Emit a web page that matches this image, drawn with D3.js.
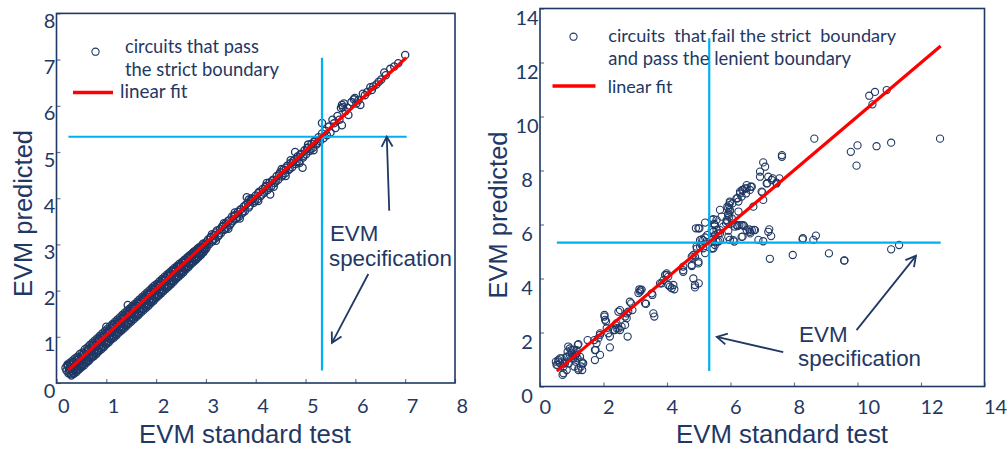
<!DOCTYPE html>
<html><head><meta charset="utf-8">
<script src="https://cdn.jsdelivr.net/npm/d3@7"></script>
<style>body{margin:0;background:#fff}svg{display:block}</style></head>
<body><svg id="c" width="1008" height="451"></svg>
<script>
// ---------- data ----------
const leftTicks = [0,1,2,3,4,5,6,7,8];
const rightTicks = [0,2,4,6,8,10,12,14];
const leftLegend = ["circuits that pass", "the strict boundary"];
const rightLegend = ["circuits  that fail the strict  boundary", "and pass the lenient boundary"];
const fitLabel = "linear fit";
const xTitle = "EVM standard test";
const yTitle = "EVM predicted";
const specLabel = ["EVM", "specification"];
const specValue = 5.33;

const leftPass = [
[0.18,0.33],[0.20,0.27],[0.22,0.38],[0.25,0.30],[0.27,0.40],[0.26,0.23],
[0.30,0.41],[0.32,0.31],[0.31,0.25],[0.35,0.46],[0.37,0.35],[0.36,0.28],
[0.40,0.49],[0.42,0.39],[0.41,0.30],[0.45,0.55],[0.47,0.43],[0.46,0.35],
[0.50,0.57],[0.52,0.48],[0.51,0.39],[0.55,0.64],[0.57,0.51],[0.56,0.45],
[0.60,0.68],[0.62,0.58],[0.61,0.49],[0.65,0.74],[0.67,0.61],[0.66,0.55],
[0.70,0.77],[0.72,0.69],[0.71,0.59],[0.75,0.86],[0.77,0.72],[0.76,0.65],
[0.80,0.88],[0.82,0.79],[0.81,0.69],[0.85,0.95],[0.87,0.82],[0.86,0.76],
[0.90,0.97],[0.92,0.89],[0.91,0.79],[0.95,1.05],[0.97,0.92],[0.96,0.87],
[1.00,1.22],[1.00,1.09],[1.02,0.99],[1.01,0.89],[1.05,1.14],[1.07,1.02],[1.06,0.96],
[1.10,1.18],[1.12,1.09],[1.11,0.99],[1.15,1.26],[1.17,1.12],[1.16,1.06],
[1.20,1.27],[1.22,1.19],[1.21,1.09],[1.25,1.36],[1.27,1.22],[1.26,1.16],
[1.30,1.38],[1.32,1.29],[1.31,1.19],[1.35,1.45],[1.37,1.32],[1.36,1.27],
[1.40,1.48],[1.42,1.39],[1.41,1.29],[1.43,1.69],[1.45,1.56],[1.47,1.42],[1.46,1.36],
[1.50,1.57],[1.52,1.49],[1.51,1.40],[1.55,1.65],[1.57,1.52],[1.56,1.46],
[1.60,1.67],[1.62,1.59],[1.61,1.49],[1.65,1.75],[1.67,1.62],[1.66,1.56],
[1.70,1.77],[1.72,1.69],[1.71,1.60],[1.75,1.85],[1.77,1.72],[1.76,1.67],
[1.80,1.87],[1.82,1.79],[1.81,1.70],[1.85,1.94],[1.87,1.82],[1.86,1.77],
[1.90,1.97],[1.92,1.89],[1.91,1.80],[1.95,2.05],[1.97,1.92],[1.96,1.87],
[2.00,2.07],[2.02,1.99],[2.01,1.90],[2.05,2.14],[2.07,2.02],[2.06,1.97],
[2.10,2.17],[2.12,2.09],[2.11,2.00],[2.15,2.24],[2.17,2.12],[2.16,2.07],
[2.20,2.27],[2.22,2.19],[2.21,2.10],[2.25,2.34],[2.27,2.22],[2.26,2.17],
[2.30,2.37],[2.32,2.29],[2.31,2.20],[2.35,2.45],[2.37,2.32],[2.36,2.27],
[2.40,2.47],[2.42,2.39],[2.41,2.30],[2.45,2.54],[2.47,2.42],[2.46,2.38],
[2.50,2.56],[2.52,2.49],[2.51,2.41],[2.55,2.63],[2.57,2.52],[2.56,2.48],
[2.60,2.66],[2.62,2.59],[2.61,2.51],[2.65,2.73],[2.67,2.62],[2.66,2.58],
[2.70,2.76],[2.72,2.69],[2.71,2.61],[2.75,2.83],[2.77,2.72],[2.76,2.68],
[2.80,2.85],[2.82,2.79],[2.81,2.71],[2.85,2.92],[2.87,2.82],[2.86,2.78],
[2.90,2.95],[2.92,2.89],[2.91,2.82],[2.95,3.02],[2.97,2.92],[2.96,2.89],
[3.00,3.04],[3.02,2.99],[3.01,2.92],
[0.23,0.36],[0.24,0.21],[0.28,0.35],[0.29,0.19],[0.33,0.44],[0.34,0.22],[0.38,0.40],[0.39,0.27],
[0.43,0.52],[0.44,0.31],[0.48,0.50],[0.49,0.34],[0.53,0.61],[0.54,0.41],[0.58,0.59],[0.59,0.44],
[0.63,0.72],[0.64,0.50],[0.68,0.69],[0.69,0.55],[0.73,0.82],[0.74,0.60],[0.78,0.80],[0.79,0.64],
[0.83,0.92],[0.84,0.71],[0.88,0.91],[0.89,0.75],[0.93,1.02],[0.94,0.80],[0.98,1.01],[0.99,0.85],
[1.03,1.12],[1.04,0.91],[1.08,1.11],[1.09,0.95],[1.13,1.22],[1.14,1.01],[1.18,1.21],[1.19,1.05],
[1.23,1.32],[1.24,1.11],[1.28,1.31],[1.29,1.16],[1.33,1.42],[1.34,1.21],[1.38,1.41],[1.39,1.25],
[1.43,1.50],[1.44,1.31],[1.48,1.51],[1.49,1.36],[1.53,1.62],[1.54,1.41],[1.58,1.61],[1.59,1.45],
[1.63,1.72],[1.64,1.51],[1.68,1.71],[1.69,1.56],[1.73,1.82],[1.74,1.61],[1.78,1.81],[1.79,1.66],
[1.83,1.92],[1.84,1.71],[1.88,1.91],[1.89,1.76],[1.93,2.02],[1.94,1.81],[1.98,2.01],[1.99,1.86],
[2.03,2.12],[2.04,1.91],[2.08,2.11],[2.09,1.96],[2.13,2.22],[2.14,2.01],[2.18,2.21],[2.19,2.06],
[2.23,2.32],[2.24,2.11],[2.28,2.31],[2.29,2.16],[2.33,2.42],[2.34,2.22],[2.38,2.41],[2.39,2.27],
[2.43,2.52],[2.44,2.32],[2.48,2.51],[2.49,2.37],[2.53,2.61],[2.54,2.43],[2.58,2.61],[2.59,2.48],
[2.63,2.71],[2.64,2.53],[2.68,2.71],[2.69,2.58],[2.73,2.81],[2.74,2.63],[2.78,2.80],[2.79,2.68],
[2.83,2.90],[2.84,2.73],[2.88,2.90],[2.89,2.78],[2.93,3.00],[2.94,2.84],[2.98,2.99],[2.99,2.89],
[0.22,0.40],[0.30,0.16],[0.27,0.44],[0.35,0.20],[0.32,0.48],[0.40,0.24],[0.37,0.53],[0.45,0.29],
[0.42,0.57],[0.50,0.34],[0.47,0.63],[0.55,0.38],[0.52,0.66],[0.60,0.44],[0.57,0.73],[0.65,0.48],
[0.62,0.77],[0.70,0.54],[0.67,0.82],[0.75,0.58],[0.72,0.87],[0.80,0.63],[0.77,0.92],[0.85,0.69],
[0.82,0.97],[0.90,0.73],[0.87,1.02],[0.95,0.78],[0.92,1.07],[1.00,0.84],[0.97,1.12],[1.05,0.88],
[1.02,1.17],[1.10,0.94],[1.07,1.22],[1.15,0.98],[1.12,1.27],[1.20,1.03],[1.17,1.32],[1.25,1.09],
[1.22,1.37],[1.30,1.13],[1.27,1.42],[1.35,1.18],[1.32,1.47],[1.40,1.23],[1.37,1.52],[1.45,1.28],
[1.42,1.57],[1.50,1.33],[1.47,1.61],[1.55,1.38],[1.52,1.66],[1.60,1.43],[1.57,1.71],[1.65,1.48],
[1.62,1.76],[1.70,1.53],[1.67,1.81],[1.75,1.58],[1.72,1.86],[1.80,1.63],[1.77,1.91],[1.85,1.68],
[1.82,1.96],[1.90,1.73],[1.87,2.01],[1.95,1.78],[1.92,2.06],[2.00,1.84],[1.97,2.11],[2.05,1.89],
[2.02,2.15],[2.10,1.94],[2.07,2.20],[2.15,1.99],[2.12,2.25],[2.20,2.04],[2.17,2.30],[2.25,2.09],
[2.22,2.35],[2.30,2.14],[2.27,2.39],[2.35,2.19],[2.32,2.44],[2.40,2.25],[2.37,2.49],[2.45,2.30],
[2.42,2.53],[2.50,2.35],[2.47,2.58],[2.55,2.40],[2.52,2.62],[2.60,2.46],[2.57,2.67],[2.65,2.51],
[2.62,2.71],[2.70,2.57],[2.67,2.76],[2.75,2.62],[2.72,2.80],[2.80,2.67],[2.77,2.85],[2.85,2.72],
[2.82,2.89],[2.90,2.77],[2.87,2.94],[2.95,2.83],
[3.04,3.10],[3.06,3.00],[3.10,3.16],[3.12,3.06],[3.16,3.21],[3.18,3.12],[3.22,3.30],[3.24,3.17],
[3.28,3.33],[3.30,3.24],[3.34,3.40],[3.36,3.31],[3.40,3.46],[3.42,3.36],[3.46,3.52],[3.48,3.42],
[3.52,3.60],[3.54,3.50],[3.58,3.63],[3.60,3.55],[3.64,3.70],[3.66,3.60],[3.70,3.76],[3.72,3.67],
[3.76,3.82],[3.78,3.72],[3.82,4.02],[3.84,3.90],[3.86,3.80],[3.90,3.95],[3.94,3.98],[3.96,3.90],
[4.00,4.06],[4.03,3.97],[4.07,4.14],[4.10,4.05],[4.14,4.20],[4.17,4.12],[4.21,4.27],[4.24,4.18],
[4.29,4.08],[4.28,4.34],[4.31,4.26],[4.35,4.40],[4.38,4.33],[4.42,4.48],[4.45,4.40],[4.49,4.56],
[4.52,4.47],[4.56,4.62],[4.59,4.54],[4.63,4.70],[4.66,4.61],[4.70,4.76],[4.73,4.67],[4.77,4.82],
[4.79,5.00],[4.80,4.74],[4.84,4.90],[4.87,4.80],[4.91,4.96],[4.94,4.66],[4.95,4.88],[4.98,5.04],
[5.01,4.95],[5.05,5.10],[5.08,5.02],[5.12,5.18],[5.15,5.09],[5.19,5.25],[5.22,5.16],[5.26,5.32],[5.29,5.24],
[3.08,3.14],[3.14,3.09],[3.20,3.26],[3.26,3.20],[3.32,3.38],[3.38,3.33],[3.44,3.50],[3.50,3.45],
[3.56,3.62],[3.62,3.57],[3.68,3.74],[3.74,3.69],[3.80,3.86],[3.88,3.84],[3.92,4.00],[3.98,3.94],
[4.05,4.11],[4.12,4.08],[4.19,4.24],[4.26,4.22],[4.33,4.38],[4.40,4.36],[4.47,4.52],[4.54,4.50],
[4.61,4.66],[4.68,4.64],[4.75,4.80],[4.82,4.78],[4.89,4.94],[4.96,4.92],[5.03,5.08],[5.10,5.06],
[5.17,5.22],[5.24,5.20],
[3.12,3.22],[3.20,3.08],[3.36,3.46],[3.45,3.34],[3.58,3.69],[3.68,3.56],[3.86,3.97],[4.05,3.94],
[4.22,4.33],[4.36,4.25],[4.52,4.63],[4.60,4.48],[4.70,4.82],[4.88,4.76],[5.05,5.16],[5.16,5.04],
[5.33,5.63],[5.33,5.40],[5.36,5.30],[5.40,5.46],[5.43,5.36],[5.47,5.55],[5.50,5.42],[5.54,5.70],
[5.57,5.62],[5.60,5.52],[5.64,5.78],[5.68,5.70],[5.71,5.95],[5.73,6.02],[5.73,5.58],[5.75,5.97],
[5.77,6.05],[5.80,5.88],[5.84,5.96],[5.86,5.80],[5.92,6.08],[5.97,6.14],[5.99,6.17],[6.02,6.05],
[6.06,6.12],[6.10,6.02],[6.15,6.26],[6.19,6.23],[6.24,6.30],[6.30,6.40],[6.33,6.34],[6.36,6.42],
[6.42,6.46],[6.47,6.52],[6.52,6.57],[6.58,6.72],[6.61,6.66],[6.70,6.80],[6.78,6.85],[6.86,6.92],[7.00,7.10]
];

const rightFail = [
[0.50,0.92],[0.52,0.80],[0.55,0.80],[0.58,0.98],[0.58,0.92],[0.63,0.86],[0.63,1.04],[0.68,1.04],
[0.71,0.43],[0.74,0.74],[0.74,0.49],[0.79,0.92],[0.79,0.86],[0.84,1.08],[0.84,0.61],[0.84,1.11],
[0.87,1.29],[0.89,1.48],[0.91,0.86],[0.94,1.17],[0.94,1.41],[0.99,1.35],[0.99,1.04],[1.00,1.23],
[1.05,1.04],[1.05,1.36],[1.08,0.74],[1.10,1.11],[1.12,0.92],[1.13,1.17],[1.15,1.23],[1.15,1.35],
[1.18,1.05],[1.19,1.54],[1.21,1.57],[1.21,0.61],[1.21,0.67],[1.26,1.10],[1.29,0.74],[1.31,0.92],
[1.33,0.61],[1.34,0.86],[1.36,0.86],
[1.50,1.72],[1.71,1.72],[1.73,0.98],[1.73,1.35],[1.75,1.35],[1.78,1.60],[1.84,1.79],[1.89,1.91],
[1.89,1.17],[1.89,1.97],[2.03,2.59],[2.03,2.65],[2.05,2.47],[2.08,2.41],[2.10,2.16],[2.15,1.97],
[2.20,1.45],[2.20,1.85],[2.31,2.09],[2.36,2.09],[2.38,2.28],[2.41,2.16],[2.41,2.34],[2.47,2.77],
[2.47,2.15],[2.52,2.09],[2.52,2.83],[2.57,2.22],[2.68,2.28],[2.68,2.59],[2.73,2.53],[2.73,2.71],
[2.76,1.85],[2.78,2.77],[2.83,3.14],[2.87,3.08],[2.91,2.83],
[3.10,3.46],[3.13,3.60],[3.15,3.52],[3.17,3.57],[3.20,3.59],[3.31,3.08],[3.34,3.06],[3.52,3.45],
[3.54,3.39],[3.57,2.71],[3.60,2.59],[3.78,3.82],[3.83,3.82],[3.89,3.94],[3.94,4.13],[3.99,4.19],
[3.99,4.13],[4.04,4.07],[4.04,3.76],[4.09,3.70],[4.15,3.64],[4.20,3.76],[4.23,3.60],
[4.51,4.44],[4.51,4.25],[4.51,4.31],[4.78,4.81],[4.78,4.46],[4.78,4.50],[4.83,4.87],[4.83,4.00],
[4.88,4.81],[4.88,3.67],[4.88,3.76],[4.91,5.86],[4.93,5.18],[4.94,5.11],[4.99,4.56],[4.99,4.62],
[4.99,5.86],[5.00,3.82],[5.02,5.86],[5.04,5.18],[5.04,5.42],[5.09,5.45],[5.09,5.24],[5.14,5.12],
[5.14,5.42],[5.20,4.94],[5.20,6.07],[5.20,5.52],[5.27,5.61],[5.41,5.43],[5.41,5.11],[5.41,5.79],
[5.41,6.17],[5.46,5.12],[5.46,6.20],[5.46,5.73],[5.48,6.02],[5.51,5.98],[5.51,5.24],[5.51,5.61],
[5.56,5.80],[5.56,5.36],[5.56,6.17],[5.62,5.37],[5.62,5.67],[5.67,5.67],[5.67,6.54],[5.67,5.42],
[5.67,5.79],[5.72,6.29],[5.77,5.92],[5.86,6.04],[5.88,6.17],[5.90,6.11],[5.90,6.66],[5.93,5.77],
[5.93,6.41],[5.93,6.60],[5.93,6.35],[5.93,5.54],[5.96,6.29],[5.96,6.72],[5.98,6.81],[5.98,6.48],
[5.98,6.85],[5.98,6.54],[5.98,5.43],[6.04,6.04],[6.04,6.23],[6.06,6.78],[6.09,5.42],[6.12,5.37],
[6.14,5.92],[6.19,5.98],[6.19,6.97],[6.22,5.94],[6.22,6.97],[6.25,6.85],[6.25,6.48],[6.28,5.98],
[6.30,7.15],[6.30,7.22],[6.35,5.98],[6.35,7.03],[6.35,5.54],[6.37,7.28],[6.38,5.55],[6.40,5.98],
[6.40,7.28],[6.43,5.94],[6.46,7.34],[6.49,7.15],[6.51,7.34],[6.51,5.79],[6.51,7.46],[6.59,5.82],
[6.61,5.73],[6.61,7.28],[6.62,5.67],[6.64,7.40],[6.67,5.79],[6.67,7.40],[6.72,6.66],[6.74,5.80],
[6.77,5.79],[6.88,5.43],[6.93,7.96],[6.93,7.77],[6.98,7.22],[7.00,7.19],[7.03,5.38],[7.03,6.91],
[7.03,8.30],[7.09,8.14],[7.14,7.52],[7.16,7.53],[7.19,7.77],[7.19,5.73],[7.22,5.82],[7.24,4.73],
[7.28,5.57],[7.30,7.65],[7.33,7.71],[7.45,7.52],[7.45,7.55],[7.54,7.71],[7.62,8.57],[7.62,8.51],
[7.96,4.87],[8.27,5.45],[8.28,5.49],[8.61,5.43],[8.64,9.18],[8.69,5.59],[9.10,4.93],[9.58,4.66],
[9.59,4.67],[9.79,8.69],[9.97,8.18],[10.0,8.93],[10.37,10.77],[10.47,10.45],[10.55,10.91],[10.60,8.90],
[10.92,10.98],[11.06,9.03],[11.06,5.08],[11.31,5.24],[12.60,9.18]
];

const leftFit = [[0.24,0.28],[7.02,7.04]];
const rightFit = [[0.53,0.57],[12.62,12.61]];

// ---------- drawing ----------
const NAVY = "#1f3864", CYAN = "#00b0f0", RED = "#ff0000";
const svg = d3.select("#c");
svg.append("rect").attr("width",1008).attr("height",451).attr("fill","#fff");
const defs = svg.append("defs");
defs.append("marker").attr("id","arr").attr("viewBox","-12 -7 14 14")
  .attr("refX",0).attr("refY",0).attr("markerWidth",14).attr("markerHeight",14)
  .attr("markerUnits","userSpaceOnUse").attr("orient","auto")
  .append("path").attr("d","M-10,-5.5 L0,0 L-10,5.5").attr("fill","none")
  .attr("stroke",NAVY).attr("stroke-width",1.8);

function fit(sel, w){
  const L = sel.node().getComputedTextLength();
  sel.attr("font-size", parseFloat(sel.attr("font-size")) * w / L);
}

function panel(o){
  const g = svg.append("g");
  const x = d3.scaleLinear().domain(o.xDomain).range(o.xRange);
  const y = d3.scaleLinear().domain(o.yDomain).range(o.yRange);

  // axes
  const ax = g.append("g").attr("transform",`translate(0,${o.yRange[0]})`)
    .call(d3.axisBottom(x).tickValues(o.ticks).tickSize(-4).tickSizeOuter(0));
  ax.select(".domain").remove();
  ax.selectAll("line").attr("stroke","#6b7894").attr("stroke-width",1.2);
  ax.selectAll("text").attr("text-anchor","start").attr("x",o.xlabDx).attr("y",o.xlabY).attr("dy",null)
    .attr("fill",NAVY).attr("font-family","Lato").attr("font-size",20);
  const ay = g.append("g").attr("transform",`translate(${o.xRange[0]},0)`)
    .call(d3.axisLeft(y).tickValues(o.ticks).tickSize(-4).tickSizeOuter(0));
  ay.select(".domain").remove();
  ay.selectAll("line").attr("stroke","#6b7894").attr("stroke-width",1.2);
  ay.selectAll("text").attr("text-anchor","middle").attr("x",o.ylabX).attr("dy",null).attr("y",o.ylabDy)
    .attr("fill",NAVY).attr("font-family","Lato").attr("font-size",20);

  // frame
  g.append("rect").attr("x",o.xRange[0]).attr("y",o.yRange[1])
    .attr("width",o.xRange[1]-o.xRange[0]).attr("height",o.yRange[0]-o.yRange[1])
    .attr("fill","none").attr("stroke",NAVY).attr("stroke-width",1.6);

  // points
  g.append("g").selectAll("circle").data(o.points).join("circle")
    .attr("cx",d=>x(d[0])).attr("cy",d=>y(d[1])).attr("r",3.6)
    .attr("fill","none").attr("stroke",NAVY).attr("stroke-width",o.pw);

  // spec lines
  g.append("line").attr("x1",x(o.specH[0])).attr("x2",x(o.specH[1]))
    .attr("y1",y(o.spec)).attr("y2",y(o.spec)).attr("stroke",CYAN).attr("stroke-width",2.2);
  g.append("line").attr("y1",y(o.specV[0])).attr("y2",y(o.specV[1]))
    .attr("x1",x(o.spec)).attr("x2",x(o.spec)).attr("stroke",CYAN).attr("stroke-width",2.2);

  // fit line
  g.append("path").datum(o.fit).attr("d",d3.line().x(d=>x(d[0])).y(d=>y(d[1])))
    .attr("stroke",RED).attr("stroke-width",3.2).attr("fill","none");

  // arrows
  o.arrows.forEach(a=>{
    g.append("line").attr("x1",x(a[0][0])).attr("y1",y(a[0][1]))
      .attr("x2",x(a[1][0])).attr("y2",y(a[1][1]))
      .attr("stroke",NAVY).attr("stroke-width",1.8).attr("marker-end","url(#arr)");
  });
  // spec text
  const s1 = g.append("text").attr("x",x(o.specText[0])).attr("y",o.specText[1]).text(specLabel[0])
    .attr("font-family","Liberation Sans").attr("font-size",20.5).attr("fill",NAVY);
  const s2 = g.append("text").attr("x",x(o.specText[0])-1).attr("y",o.specText[2]).text(specLabel[1])
    .attr("font-family","Liberation Sans").attr("font-size",20.5).attr("fill",NAVY);
  fit(s2, 123);
  s1.attr("font-size", s2.attr("font-size"));

  // legend
  const L = o.legend;
  g.append("circle").attr("cx",L.cx).attr("cy",L.cy).attr("r",3.6)
    .attr("fill","none").attr("stroke",NAVY).attr("stroke-width",1.1);
  o.legendText.forEach((t,i)=>{
    const tt = g.append("text").attr("x",L.tx).attr("y",L.ty[i]).text(t)
      .style("white-space","pre")
      .attr("font-family","Lato").attr("font-size",19).attr("fill",NAVY);
    fit(tt, L.tw[i]);
  });
  g.append("line").attr("x1",L.lx[0]).attr("x2",L.lx[1]).attr("y1",L.ly).attr("y2",L.ly)
    .attr("stroke",RED).attr("stroke-width",3.4);
  const ft = g.append("text").attr("x",L.fx).attr("y",L.fy).text(fitLabel)
    .attr("font-family","Lato").attr("font-size",19).attr("fill",NAVY);
  fit(ft, L.fw);

  // titles
  const xt = g.append("text").attr("x",o.xtX).attr("y",443)
    .attr("text-anchor","middle").text(xTitle)
    .attr("font-family","Liberation Sans").attr("font-size",24).attr("fill",NAVY);
  fit(xt, 212);
  const yt = g.append("text").attr("transform",`translate(${o.ytX},${o.ytY}) rotate(-90)`)
    .attr("text-anchor","middle").text(yTitle)
    .attr("font-family","Liberation Sans").attr("font-size",24).attr("fill",NAVY);
  fit(yt, 167);
}

panel({
  xDomain:[0,8], yDomain:[0,8], xRange:[56.5,455], yRange:[383,13.4],
  ticks:leftTicks, xlabDx:1, xlabY:29.5, ylabX:-7, ylabDy:14, pw:1.3,
  points:leftPass, fit:leftFit, spec:specValue, specH:[0.24,7.03], specV:[0.27,7.04],
  arrows:[[[6.68,3.73],[6.63,5.33]],[[6.26,2.36],[5.53,0.87]]],
  specText:[5.49,240.5,265.5],
  legend:{cx:95.5,cy:51.7,tx:125,ty:[52.7,75.7],tw:[134,154],lx:[73,113],ly:92.5,fx:120,fy:98.3,fw:67.7},
  legendText:leftLegend,
  xtX:245, ytX:31.7, ytY:213.5
});
panel({
  xDomain:[0,14], yDomain:[0,14], xRange:[540,984.5], yRange:[386.5,8.5],
  ticks:rightTicks, xlabDx:-1, xlabY:27.5, ylabX:-13, ylabDy:15.5, pw:1.1,
  points:rightFail, fit:rightFit, spec:specValue, specH:[0.53,12.62], specV:[0.57,12.9],
  arrows:[[[7.66,1.27],[5.57,1.84]],[[9.97,2.09],[11.84,4.84]]],
  specText:[8.16,341.5,366],
  legend:{cx:573.5,cy:36.7,tx:608.3,ty:[41.7,65],tw:[288,243],lx:[552.5,595.5],ly:86,fx:607.7,fy:92.7,fw:64.7},
  legendText:rightLegend,
  xtX:782, ytX:507, ytY:215
});
</script></body></html>
